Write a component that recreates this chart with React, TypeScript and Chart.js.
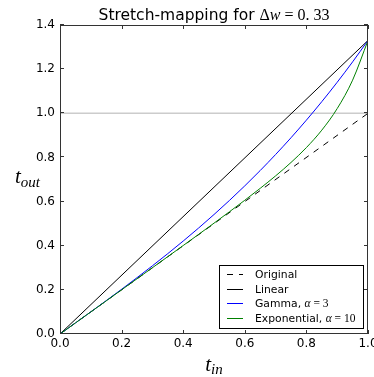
import React, { useEffect, useRef } from 'react';
import { Chart, registerables } from 'chart.js';
Chart.register(...registerables);

// ---- data ----
const xSamples = [0, 0.05, 0.1, 0.15, 0.2, 0.25, 0.3, 0.35, 0.4, 0.45, 0.5, 0.55, 0.6, 0.65, 0.7, 0.75, 0.8, 0.85, 0.9, 0.95, 1.0];
const gammaValues = [0, 0.05, 0.1003, 0.1511, 0.2026, 0.2552, 0.3089, 0.3642, 0.4211, 0.4801, 0.5413, 0.6049, 0.6713, 0.7406, 0.8132, 0.8892, 0.969, 1.0527, 1.1406, 1.2329, 1.33];
const expValues = [0, 0.05, 0.1, 0.15, 0.2001, 0.2502, 0.3003, 0.3505, 0.4008, 0.4513, 0.5022, 0.5537, 0.606, 0.66, 0.7164, 0.7771, 0.8447, 0.9236, 1.0214, 1.1501, 1.33];
const originalX = [0, 1];
const originalY = [0, 1];
const linearX = [0, 1];
const linearY = [0, 1.33];
const refX = [0, 1];
const refY = [1, 1];
const xTicks = [0, 0.2, 0.4, 0.6, 0.8, 1.0];
const yTicks = [0, 0.2, 0.4, 0.6, 0.8, 1.0, 1.2, 1.4];
const seriesNames = ['Original', 'Linear', 'Gamma, ', 'Exponential, '];
const seriesMath = ['', '', '3', '10'];
const seriesColors = ['#000000', '#000000', '#0000ff', '#008000'];

const SANS = '"DejaVu Sans", sans-serif';
const SERIF = '"Liberation Serif", serif';

type Run = { t: string; f: string; dy?: number };

function drawRuns(ctx: CanvasRenderingContext2D, runs: Run[], x: number, y: number, align: 'left' | 'center') {
  let total = 0;
  for (const r of runs) { ctx.font = r.f; total += ctx.measureText(r.t).width; }
  let cx = align === 'center' ? x - total / 2 : x;
  ctx.textAlign = 'left';
  ctx.textBaseline = 'alphabetic';
  for (const r of runs) {
    ctx.font = r.f;
    ctx.fillText(r.t, cx, y + (r.dy || 0));
    cx += ctx.measureText(r.t).width;
  }
}

const decorPlugin = {
  id: 'decor',
  afterDraw(chart: any) {
    const ctx: CanvasRenderingContext2D = chart.ctx;
    const a = chart.chartArea;
    const xs = chart.scales.x;
    const ys = chart.scales.y;
    ctx.save();
    ctx.fillStyle = '#000';
    ctx.strokeStyle = '#333';
    ctx.lineWidth = 1;
    // frame
    ctx.strokeRect(a.left + 0.5, a.top + 0.5, a.right - a.left - 1, a.bottom - a.top - 1);
    // ticks (inward, all sides)
    ctx.beginPath();
    for (const v of xTicks) {
      const px = Math.round(xs.getPixelForValue(v)) + 0.5;
      ctx.moveTo(px, a.bottom); ctx.lineTo(px, a.bottom - 4);
      ctx.moveTo(px, a.top); ctx.lineTo(px, a.top + 4);
    }
    for (const v of yTicks) {
      const py = Math.round(ys.getPixelForValue(v)) - 0.5;
      ctx.moveTo(a.left, py); ctx.lineTo(a.left + 4, py);
      ctx.moveTo(a.right, py); ctx.lineTo(a.right - 4, py);
    }
    ctx.stroke();
    // tick labels
    ctx.font = '12px ' + SANS;
    ctx.textAlign = 'right';
    ctx.textBaseline = 'middle';
    for (const v of yTicks) ctx.fillText(v.toFixed(1), a.left - 5, ys.getPixelForValue(v));
    ctx.textAlign = 'center';
    for (const v of xTicks) ctx.fillText(v.toFixed(1), xs.getPixelForValue(v), a.bottom + 10);
    // title
    const cxm = (a.left + a.right) / 2;
    drawRuns(ctx, [
      { t: 'Stretch-mapping for ', f: '15.5px ' + SANS },
      { t: 'Δ', f: '16px ' + SERIF },
      { t: 'w', f: 'italic 16px ' + SERIF },
      { t: ' = ', f: '16px ' + SERIF },
      { t: '0. 33', f: '16px ' + SERIF },
    ], cxm, 20, 'center');
    // axis labels
    drawRuns(ctx, [
      { t: 't', f: 'italic 21px ' + SERIF },
      { t: 'in', f: 'italic 15px ' + SERIF, dy: 2.5 },
    ], cxm, 371, 'center');
    drawRuns(ctx, [
      { t: 't', f: 'italic 21px ' + SERIF },
      { t: 'out', f: 'italic 15px ' + SERIF, dy: 3.5 },
    ], 15, 183, 'left');
    // legend
    const lx = 219.5, ly = 265.5, lw = 144, lh = 63;
    ctx.fillStyle = '#fff';
    ctx.fillRect(lx, ly, lw, lh);
    ctx.strokeStyle = '#000';
    ctx.strokeRect(lx, ly, lw, lh);
    const rowsY = [274, 288.5, 303, 317.5];
    for (let i = 0; i < 4; i++) {
      const yy = Math.round(rowsY[i]) + 0.5;
      ctx.beginPath();
      ctx.strokeStyle = seriesColors[i];
      ctx.setLineDash(i === 0 ? [6, 6] : []);
      ctx.moveTo(227, yy); ctx.lineTo(243, yy);
      ctx.stroke();
      ctx.setLineDash([]);
      ctx.fillStyle = '#000';
      const runs: Run[] = [{ t: seriesNames[i], f: '10.8px ' + SANS }];
      if (seriesMath[i]) {
        runs.push({ t: 'α', f: 'italic 11.5px ' + SERIF });
        runs.push({ t: ' = ', f: '11.5px ' + SERIF });
        runs.push({ t: seriesMath[i], f: '11.5px ' + SERIF });
      }
      drawRuns(ctx, runs, 255, rowsY[i] + 4, 'left');
    }
    ctx.restore();
  },
};

function pts(xa: number[], ya: number[]) {
  return xa.map((x, i) => ({ x, y: ya[i] }));
}

export default function App() {
  const ref = useRef<HTMLCanvasElement>(null);
  useEffect(() => {
    if (!ref.current) return;
    const common = { pointRadius: 0, borderWidth: 1, fill: false, tension: 0 };
    const chart = new Chart(ref.current, {
      type: 'line',
      data: {
        datasets: [
          { ...common, label: 'Exponential', data: pts(xSamples, expValues), borderColor: seriesColors[3], cubicInterpolationMode: 'monotone' },
          { ...common, label: 'Gamma', data: pts(xSamples, gammaValues), borderColor: seriesColors[2], cubicInterpolationMode: 'monotone' },
          { ...common, label: 'Linear', data: pts(linearX, linearY), borderColor: seriesColors[1] },
          { ...common, label: 'Original', data: pts(originalX, originalY), borderColor: seriesColors[0], borderDash: [6, 6] },
          { ...common, label: 'ref', data: pts(refX, refY), borderColor: '#cccccc', borderWidth: 1.5 },
        ] as any,
      },
      options: {
        animation: false,
        responsive: false,
        devicePixelRatio: 1,
        layout: { padding: { left: 60, right: 6, top: 25, bottom: 43 } },
        plugins: { legend: { display: false }, title: { display: false }, tooltip: { enabled: false } },
        scales: {
          x: { type: 'linear', min: 0, max: 1, display: false },
          y: { type: 'linear', min: 0, max: 1.4, display: false },
        },
      },
      plugins: [decorPlugin],
    });
    return () => chart.destroy();
  }, []);
  return (
    <div style={{ position: 'absolute', left: 0, top: 0, width: 374, height: 377, background: '#fff' }}>
      <canvas ref={ref} width={374} height={377} />
    </div>
  );
}
